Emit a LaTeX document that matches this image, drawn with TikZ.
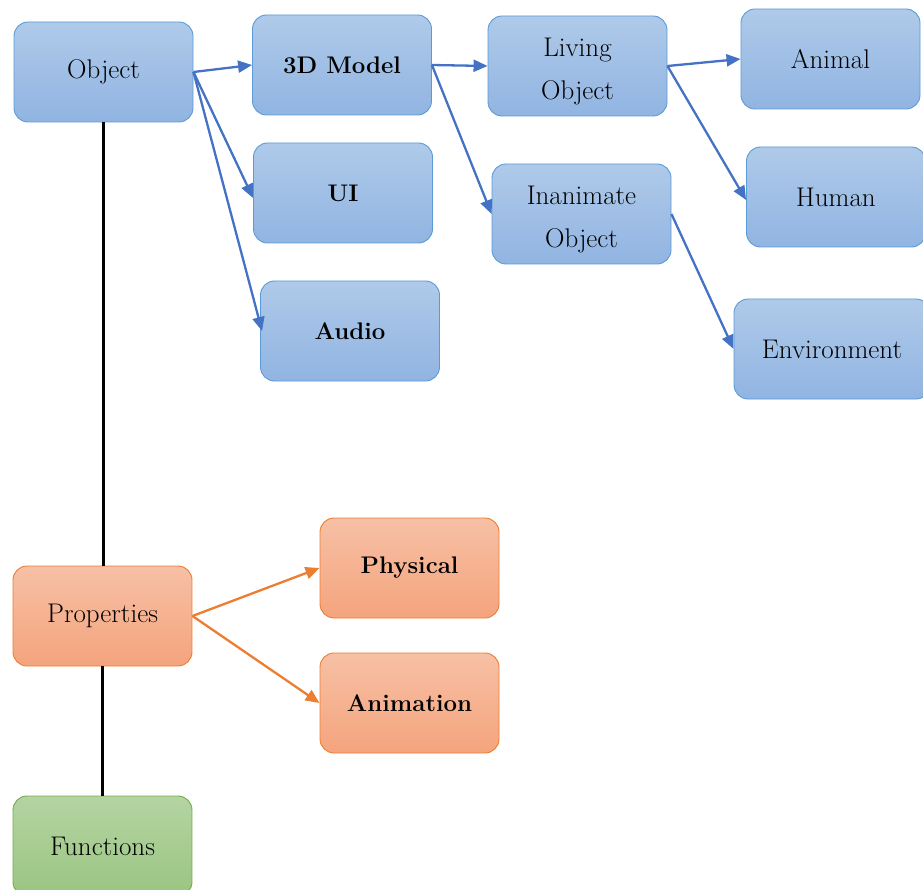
\documentclass[tikz,border=0pt]{standalone}
\usetikzlibrary{arrows.meta}
\definecolor{bluetop}{HTML}{AFCAE9}
\definecolor{bluebot}{HTML}{91B4E2}
\definecolor{blueline}{HTML}{5B9BD5}
\definecolor{bluearrow}{HTML}{4472C4}
\definecolor{orangetop}{HTML}{F7C0A5}
\definecolor{orangebot}{HTML}{F4A47D}
\definecolor{orangeline}{HTML}{ED7D31}
\definecolor{greentop}{HTML}{B4D4A2}
\definecolor{greenbot}{HTML}{9BC582}
\definecolor{greenline}{HTML}{70AD47}
\tikzset{
  box/.style={rounded corners=14pt, minimum width=179pt, minimum height=100pt,
    inner sep=0pt, align=center, line width=0.9pt,
    font=\fontsize{27}{43}\selectfont},
  boldbox/.style={box, font=\fontsize{24}{30}\selectfont\bfseries},
  twoline/.style={label={[yshift=-6pt,align=center,inner sep=0pt,
    font=\fontsize{27}{43}\selectfont]center:#1}},
  bluebox/.style={draw=blueline, top color=bluetop, bottom color=bluebot},
  orangebox/.style={draw=orangeline, top color=orangetop, bottom color=orangebot},
  greenbox/.style={draw=greenline, top color=greentop, bottom color=greenbot},
  barrow/.style={draw=bluearrow, line width=2.3pt, -{Triangle[length=14pt,width=12pt]}},
  oarrow/.style={draw=orangeline, line width=2.3pt, -{Triangle[length=14pt,width=12pt]}},
  trunk/.style={draw=black, line width=2.4pt}
}
\begin{document}
\begin{tikzpicture}[x=1pt,y=-1pt]
\useasboundingbox (0,0) rectangle (923,890);

% object hierarchy
\node[box,bluebox] (obj) at (103.5,72) {Object};
\node[boldbox,bluebox] (model) at (342,65) {3D Model};
\node[boldbox,bluebox] (ui) at (343,193) {UI};
\node[boldbox,bluebox] (audio) at (350,331) {Audio};
\node[box,bluebox,twoline={Living\\Object}] (living) at (577.5,66) {};
\node[box,bluebox,twoline={Inanimate\\Object}] (inanimate) at (581.5,214) {};
\node[box,bluebox] (animal) at (830.5,59) {Animal};
\node[box,bluebox] (human) at (836,197) {Human};
\node[box,bluebox,minimum width=196pt] (env) at (832,349) {Environment};

% properties and functions
\node[box,orangebox] (props) at (102.5,616) {Properties};
\node[boldbox,orangebox] (phys) at (409.5,568) {Physical};
\node[boldbox,orangebox] (anim) at (409.5,703) {Animation};
\node[box,greenbox] (func) at (102.5,846) {Functions};

% vertical trunk
\draw[trunk] (obj.south) -- (obj.south |- props.north);
\draw[trunk] (props.south) -- (func.north);

% blue connectors
\draw[barrow] (obj.east) -- (model.west);
\draw[barrow] (obj.east) -- ([yshift=-5pt]ui.west);
\draw[barrow] (obj.east) -- ([xshift=2pt]audio.west);
\draw[barrow] (model.east) -- (living.west);
\draw[barrow] (model.east) -- (inanimate.west);
\draw[barrow] (living.east) -- (animal.west);
\draw[barrow] (living.east) -- ([yshift=-3pt]human.west);
\draw[barrow] (inanimate.east) -- (env.west);

% orange connectors
\draw[oarrow] (props.east) -- (phys.west);
\draw[oarrow] (props.east) -- (anim.west);
\end{tikzpicture}
\end{document}
